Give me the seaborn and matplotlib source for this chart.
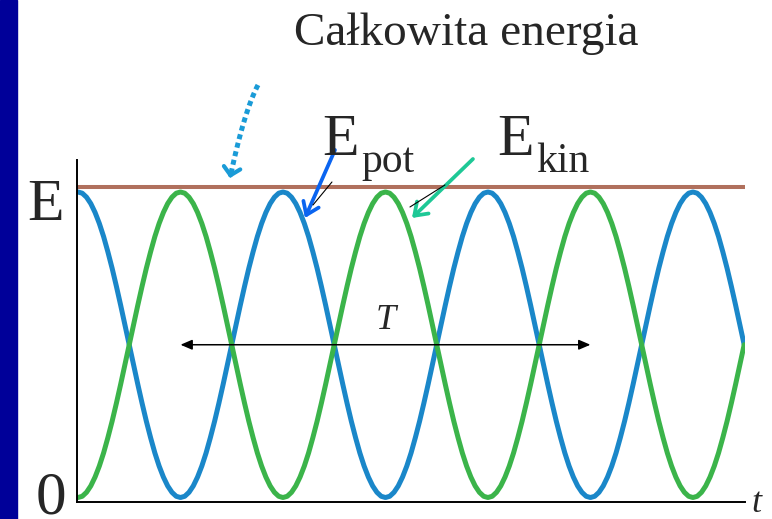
import numpy as np
import pandas as pd
import matplotlib
matplotlib.use("Agg")
import matplotlib.pyplot as plt
from matplotlib.patches import Rectangle
import seaborn as sns

# E_pot / E over one quarter of the period T (from maximum down to zero)
falling_quarter = [1.000, 0.996, 0.983, 0.962, 0.933, 0.897, 0.854, 0.804, 0.750, 0.691,
                   0.629, 0.565, 0.500, 0.435, 0.371, 0.309, 0.250, 0.196, 0.146, 0.103,
                   0.067, 0.038, 0.017, 0.004, 0.000]
quarter_T = 0.25          # one quarter of T, time unit = T
full_quarters = 6         # whole quarters drawn, then half a quarter more
total_energy = 1.015      # level of the brown "total energy" line
arrow_T = (0.25, 1.25)    # ends of the double arrow marked T
arrow_T_level = 0.5


def build_series(starts_falling):
    down = falling_quarter
    up = falling_quarter[::-1]
    vals = []
    falling = starts_falling
    for _ in range(full_quarters):
        seg = down if falling else up
        vals += seg if not vals else seg[1:]
        falling = not falling
    seg = down if falling else up
    vals += seg[1:13]
    return vals


e_pot = build_series(True)
e_kin = build_series(False)
step = quarter_T / (len(falling_quarter) - 1)
t = np.arange(len(e_pot)) * step

df = pd.DataFrame({
    "t": np.concatenate([t, t]),
    "E": e_pot + e_kin,
    "kind": ["pot"] * len(t) + ["kin"] * len(t),
})

sns.set_style("white")
plt.rcParams["font.family"] = ["Liberation Serif", "DejaVu Serif"]

W, H = 772, 519
fig = plt.figure(figsize=(W / 100, H / 100), dpi=100)
fig.add_artist(Rectangle((0, 0), 17 / W, 1, transform=fig.transFigure,
                         color="#000099", zorder=0))

ax = fig.add_axes([77 / W, 17 / H, 668 / W, 342 / H])
ax.axhline(total_energy, color="#b0705d", lw=2.9, zorder=1)
sns.lineplot(data=df, x="t", y="E", hue="kind", palette={"pot": "#1a87c9", "kin": "#3bb44a"},
             hue_order=["pot", "kin"], linewidth=3.6, legend=False, ax=ax, zorder=2)

ax.set_xlim(-0.0024, 1.627)
ax.set_ylim(-0.0147, 1.1047)
ax.set_xticks([])
ax.set_yticks([])
ax.set_xlabel("")
ax.set_ylabel("")
for side in ["top", "right"]:
    ax.spines[side].set_visible(False)
for side in ["left", "bottom"]:
    ax.spines[side].set_color("black")
    ax.spines[side].set_linewidth(1.4)


def px(x, y):
    # figure pixel (from top-left) -> data coordinates of ax
    return ((x - 78) / 410, (497.5 - y) / 305.5)


# period arrow
ax.annotate("", xy=(arrow_T[1], arrow_T_level), xytext=(arrow_T[0], arrow_T_level),
            arrowprops=dict(arrowstyle="<|-|>,head_length=0.7,head_width=0.3",
                            color="black", lw=1.1, shrinkA=0, shrinkB=0))
ax.text(sum(arrow_T) / 2, arrow_T_level + 0.05, "T", fontsize=26, style="italic",
        ha="center", va="baseline")

# pointer arrows
ax.annotate("", xy=px(305, 218), xytext=px(335, 150), annotation_clip=False,
            arrowprops=dict(arrowstyle="->,head_length=0.85,head_width=0.6",
                            color="#0a64f0", lw=2.7, shrinkA=0, shrinkB=0))
ax.annotate("", xy=px(412, 218), xytext=px(473, 159), annotation_clip=False,
            arrowprops=dict(arrowstyle="->,head_length=0.85,head_width=0.6",
                            color="#1ec896", lw=2.7, shrinkA=0, shrinkB=0))
for (xa, ya), (xb, yb) in [((332, 182), (313, 205)), ((445, 185), (410, 207))]:
    pa, pb = px(xa, ya), px(xb, yb)
    ax.plot([pa[0], pb[0]], [pa[1], pb[1]], color="black", lw=0.8, clip_on=False, zorder=3)

# dotted curved arrow to the total energy line
s = np.linspace(0, 1, 40)
p0, p1, p2 = np.array([258, 85]), np.array([244, 112]), np.array([230.5, 176])
curve = ((1 - s) ** 2)[:, None] * p0 + (2 * s * (1 - s))[:, None] * p1 + (s ** 2)[:, None] * p2
cx, cy = px(curve[:, 0], curve[:, 1])
ax.plot(cx, cy, color="#1a9bd7", lw=3.6, linestyle=(0, (1.0, 0.75)),
        dash_capstyle="butt", clip_on=False, zorder=3)
ax.annotate("", xy=px(230, 178), xytext=px(230.8, 174.1), annotation_clip=False,
            arrowprops=dict(arrowstyle="->,head_length=0.55,head_width=0.6",
                            color="#1a9bd7", lw=3.0, shrinkA=0, shrinkB=0))


# texts, positioned in figure pixels
def ftext(x, y, s, size, **kw):
    fig.text(x / W, 1 - y / H, s, fontsize=size, va="baseline", **kw)


ftext(466, 45, "Całkowita energia", 34, ha="center")
ftext(27, 220, "E", 43)
ftext(36, 514, "0", 44)
ftext(751, 512, "t", 26, style="italic")
ftext(322, 155, "E", 43)
ftext(361, 172, "pot", 30)
ftext(497, 155, "E", 43)
ftext(536, 172, "kin", 30)

fig.savefig("out.png", dpi=100)
